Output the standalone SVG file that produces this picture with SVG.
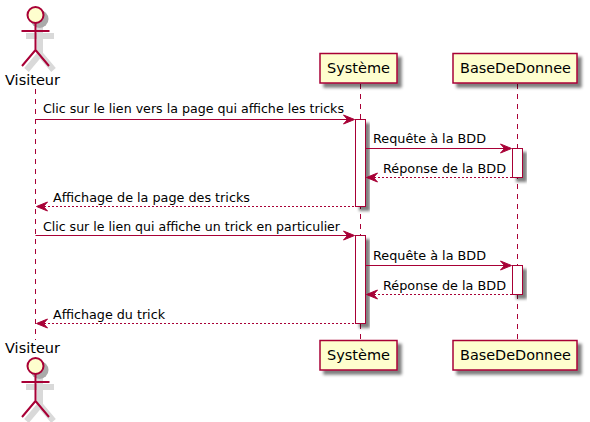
<svg xmlns="http://www.w3.org/2000/svg" width="590" height="422" viewBox="0 0 590 422">
<style>
text{font-family:"DejaVu Sans",sans-serif;fill:#000}
.m{font-size:13px}.p{font-size:14px}
.life{stroke:#A80036;stroke-width:1;stroke-dasharray:5,5;fill:none}
.box{fill:#FEFECE;stroke:#A80036;stroke-width:1.5;filter:url(#s)}
.act{fill:#FFFFFF;stroke:#A80036;stroke-width:1;filter:url(#s)}
.sol{stroke:#A80036;stroke-width:1;fill:none}
.dash{stroke:#A80036;stroke-width:1;stroke-dasharray:2,2;fill:none}
.head{fill:#A80036;stroke:#A80036;stroke-width:1}
.a{fill:none;stroke:#A80036;stroke-width:2}
.ah{fill:#FEFECE;stroke:#A80036;stroke-width:2}
.as{fill:none;stroke:#d9d9d9;stroke-width:6}
.hs{fill:#aaaaaa}
</style>
<defs>
<filter id="s" x="-30%" y="-30%" width="170%" height="170%"><feGaussianBlur in="SourceAlpha" stdDeviation="1.500" result="b"/><feColorMatrix in="b" type="matrix" values="0 0 0 0 0 0 0 0 0 0 0 0 0 0 0 0 0 0 .5 0" result="c"/><feOffset in="c" dx="4" dy="4" result="o"/><feMerge><feMergeNode in="o"/><feMergeNode in="SourceGraphic"/></feMerge></filter>
<g id="actor"><path class="as" d="M40 27V54M26 36H54M40 54L26.500 70M40 54L53.500 70"/><circle class="hs" cx="39.500" cy="19" r="9"/><circle class="ah" cx="35.500" cy="15" r="8"/><path class="a" d="M35.500 23V50M21.500 31H49.500M35.500 50L22 66M35.500 50L49 66"/></g>
<polygon id="hr" points="0,0 -11,-4.500 -7,0 -11,4.500"/>
<polygon id="hl" points="0,0 11,-4.500 7,0 11,4.500"/>
</defs>
<g id="lifelines">
<path class="life" d="M35.500 89V340"/>
<path class="life" d="M360.500 84V340"/>
<path class="life" d="M517.500 84V340"/>
</g>
<g id="actor-top"><use href="#actor"/><text class="p" x="5" y="85" textLength="55" lengthAdjust="spacingAndGlyphs">Visiteur</text></g>
<g id="systeme-top"><rect class="box" x="320" y="53.500" width="77" height="29.500"/><text class="p" x="327" y="73" textLength="63" lengthAdjust="spacingAndGlyphs">Système</text></g>
<g id="bdd-top"><rect class="box" x="453" y="53.500" width="124" height="29.500"/><text class="p" x="460" y="73" textLength="111" lengthAdjust="spacingAndGlyphs">BaseDeDonnee</text></g>
<g id="activations">
<rect class="act" x="355.500" y="119.500" width="10" height="87"/>
<rect class="act" x="512.500" y="148.500" width="10" height="29"/>
<rect class="act" x="355.500" y="235.500" width="10" height="88"/>
<rect class="act" x="512.500" y="265.500" width="10" height="29"/>
</g>
<g id="connectors">
<path class="sol" d="M35.500 119.500H351"/><use class="head" href="#hr" x="354.500" y="119.500"/>
<path class="sol" d="M365.500 148.500H508"/><use class="head" href="#hr" x="511.500" y="148.500"/>
<path class="dash" d="M370 177.500H512"/><use class="head" href="#hl" x="366.500" y="177.500"/>
<path class="dash" d="M40 206.500H355"/><use class="head" href="#hl" x="36.500" y="206.500"/>
<path class="sol" d="M35.500 235.500H351"/><use class="head" href="#hr" x="354.500" y="235.500"/>
<path class="sol" d="M365.500 265.500H508"/><use class="head" href="#hr" x="511.500" y="265.500"/>
<path class="dash" d="M370 294.500H512"/><use class="head" href="#hl" x="366.500" y="294.500"/>
<path class="dash" d="M40 323.500H355"/><use class="head" href="#hl" x="36.500" y="323.500"/>
</g>
<g id="labels">
<text class="m" x="43" y="113" textLength="301" lengthAdjust="spacingAndGlyphs">Clic sur le lien vers la page qui affiche les tricks</text>
<text class="m" x="373" y="143" textLength="113" lengthAdjust="spacingAndGlyphs">Requête à la BDD</text>
<text class="m" x="383" y="173" textLength="123" lengthAdjust="spacingAndGlyphs">Réponse de la BDD</text>
<text class="m" x="53" y="202" textLength="197" lengthAdjust="spacingAndGlyphs">Affichage de la page des tricks</text>
<text class="m" x="43" y="231" textLength="297" lengthAdjust="spacingAndGlyphs">Clic sur le lien qui affiche un trick en particulier</text>
<text class="m" x="373" y="260" textLength="113" lengthAdjust="spacingAndGlyphs">Requête à la BDD</text>
<text class="m" x="383" y="290" textLength="123" lengthAdjust="spacingAndGlyphs">Réponse de la BDD</text>
<text class="m" x="53" y="319" textLength="112" lengthAdjust="spacingAndGlyphs">Affichage du trick</text>
</g>
<g id="actor-bottom"><text class="p" x="5" y="353" textLength="55" lengthAdjust="spacingAndGlyphs">Visiteur</text><use href="#actor" y="351"/></g>
<g id="systeme-bottom"><rect class="box" x="320" y="340.500" width="77" height="29.500"/><text class="p" x="327" y="360" textLength="63" lengthAdjust="spacingAndGlyphs">Système</text></g>
<g id="bdd-bottom"><rect class="box" x="453" y="340.500" width="124" height="29.500"/><text class="p" x="460" y="360" textLength="111" lengthAdjust="spacingAndGlyphs">BaseDeDonnee</text></g>
</svg>
